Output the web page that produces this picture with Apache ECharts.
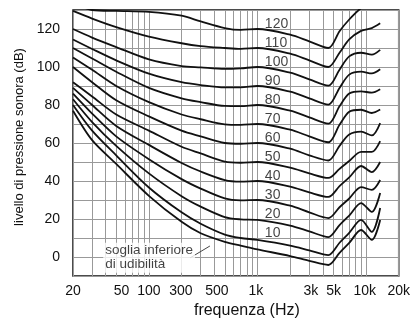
<!DOCTYPE html>
<html><head><meta charset="utf-8">
<script src="https://cdn.jsdelivr.net/npm/echarts@6/dist/echarts.min.js"></script>
<style>html,body{margin:0;padding:0;background:#fff}#c{width:413px;height:329px}</style>
</head><body><div id="c"></div>
<script>
// Frequencies (Hz) at which each equal-loudness curve is sampled
const freqs = [20, 30, 50, 100, 200, 300, 500, 700, 1000, 2000, 3000, 4500, 5700, 7000, 9000, 11300, 13500];
// Sound pressure level (dB) of each curve (phon)
const phon120 = [134, 130, 129.5, 129, 127, 124, 120.5, 119.5, 120, 117, 113.5, 110, 118.8, 125, 131, 134, 136];
const phon110 = [129.5, 125.5, 121, 116, 112.5, 111, 110, 109.5, 110, 107, 103.5, 100, 107.5, 114.5, 119, 120.5, 123];
const phon100 = [120, 115.5, 110.5, 104, 100.5, 99.8, 99, 99.3, 100, 97, 93.5, 90.2, 98.6, 105.6, 107.5, 106.5, 109];
const phon90  = [114.5, 109.5, 103.5, 96.5, 92, 90.5, 89.3, 89.3, 90, 87, 83.5, 80.2, 89, 96, 97.6, 96.6, 98.8];
const phon80  = [110, 104.5, 97.5, 89, 83.5, 81.5, 79.5, 79.4, 80, 77, 73.5, 70.2, 79.3, 86, 87.2, 86.5, 88.3];
const phon70  = [105, 98.5, 90, 81.5, 75, 72.5, 69.8, 69.5, 70, 67, 63.5, 60.4, 69.6, 76.5, 77.5, 75.8, 77.6];
const phon60  = [100, 92, 82.5, 74, 66.5, 63.5, 60, 59.6, 60, 57, 53.5, 50.8, 58.5, 64.5, 66, 64, 70.5];
const phon50  = [92, 84.5, 75, 66.5, 58, 54.5, 50.2, 49.6, 50, 47, 44, 41.6, 46.4, 50.5, 55.3, 55.3, 61];
const phon40  = [89, 80, 69, 59, 49.5, 45, 40.5, 39.7, 40, 37, 34, 31.6, 37.3, 41.9, 47.9, 44.7, 50];
const phon30  = [86, 75.5, 63.5, 51.5, 41, 36, 30.8, 29.8, 30, 27, 23.5, 20.5, 26.2, 30.8, 36.8, 35.3, 40.5];
const phon20  = [83, 71, 58.5, 44, 32, 26.5, 21, 19.8, 19.5, 16.5, 13.5, 10.5, 16.8, 21.8, 28.4, 23.7, 33.7];
const phon10  = [80, 66.5, 53.5, 36.6, 23.5, 17.5, 11.8, 10, 9, 6, 3.5, 1, 7.5, 12.7, 19.5, 13.2, 25.8];
const threshold = [77, 61.5, 49, 32.2, 18.5, 12.5, 8, 6, 4, 0.5, -2, -4.2, 2.2, 7.4, 14.2, 9, 19.5];
const curveLevels = [120, 110, 100, 90, 80, 70, 60, 50, 40, 30, 20, 10];
const thresholdLabel = 'soglia inferiore\ndi udibilità';
// X tick labels and the frequency where each one stands on the drawing
const tickLabels = ['20', '50', '100', '300', '500', '1k', '3k', '5k', '10k', '20k'];
const tickFreqs  = [20, 56, 100, 197, 423, 966, 3100, 5040, 9730, 20000];
// log-paper grid lines
const gridFreqs = [20,30,40,50,60,70,80,90,100,200,300,400,500,600,700,800,900,1000,2000,3000,4000,5000,6000,7000,8000,9000,10000,20000];

const lg = Math.log10;
const FONT = "'Liberation Sans', Arial, Helvetica, sans-serif";
const curveData = [phon120, phon110, phon100, phon90, phon80, phon70, phon60, phon50, phon40, phon30, phon20, phon10, threshold];

const series = curveData.map((vals) => {
  const s = {
    type: 'line', data: freqs.map((f, i) => [lg(f), vals[i]]),
    symbol: 'none', smooth: 0.3, clip: true, silent: true,
    lineStyle: { color: '#111', width: 1.8 }
  };
  if (vals === threshold) {
    s.markLine = {
      symbol: ['none', 'none'], silent: true, animation: false,
      lineStyle: { color: '#444', width: 1, type: 'solid' }, label: { show: false },
      data: [[{ coord: [lg(239), -0.5] }, { coord: [lg(365), 5.8] }]]
    };
  }
  return s;
});
series.push({
  type: 'scatter', symbolSize: 0, silent: true,
  data: curveLevels.map(p => [lg(1170), p + 2.7, p]),
  label: { show: true, position: 'right', distance: 0, formatter: p => String(p.value[2]),
           fontSize: 14, color: '#111', fontFamily: FONT }
});
series.push({
  type: 'scatter', symbolSize: 0, silent: true, z: 5,
  data: [[lg(38), -0.4]],
  label: { show: true, position: 'right', distance: 0, formatter: thresholdLabel,
           fontSize: 13.5, lineHeight: 14, color: '#111', backgroundColor: '#fff', padding: [1, 2], fontFamily: FONT }
});

const chart = echarts.init(document.getElementById('c'), null, { renderer: 'canvas' });
chart.setOption({
  animation: false,
  textStyle: { fontFamily: FONT },
  grid: { left: 73, top: 10, width: 326, height: 266, show: true, borderColor: '#111', borderWidth: 1.5 },
  xAxis: {
    type: 'value', min: lg(20), max: lg(20000),
    axisLine: { show: false },
    axisTick: { show: false, customValues: gridFreqs.map(lg) },
    splitLine: { show: true, lineStyle: { color: '#999', width: 1 } },
    axisLabel: {
      customValues: tickFreqs.map(lg), fontSize: 14, color: '#111', margin: 8,
      formatter: v => { const i = tickFreqs.findIndex(f => Math.abs(lg(f) - v) < 1e-6); return i >= 0 ? tickLabels[i] : ''; }
    },
    name: 'frequenza (Hz)', nameLocation: 'middle', nameGap: 14,
    nameTextStyle: { fontSize: 16, color: '#111', padding: [0, 0, 0, 22] }
  },
  yAxis: {
    type: 'value', min: -10, max: 130, interval: 10,
    axisLine: { show: false }, axisTick: { show: false },
    splitLine: { show: true, lineStyle: { color: '#999', width: 1 } },
    axisLabel: { fontSize: 14, color: '#111', margin: 13,
      formatter: v => (v >= 0 && v <= 120 && v % 20 === 0) ? String(v) : '' },
    name: 'livello di pressione sonora (dB)', nameLocation: 'middle', nameGap: 45,
    nameTextStyle: { fontSize: 13, color: '#111', padding: [0, 0, 0, 12] }
  },
  series: series
});
</script></body></html>
